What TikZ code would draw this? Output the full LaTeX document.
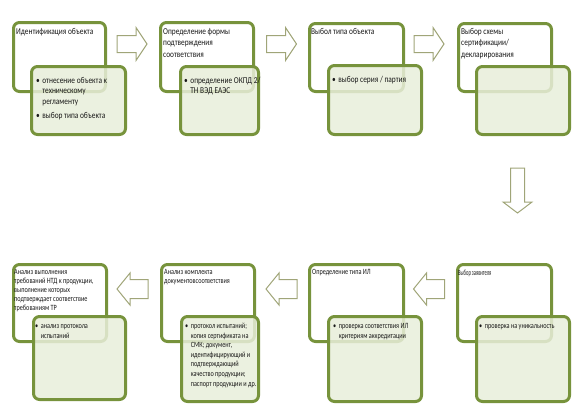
\documentclass[tikz,border=0pt]{standalone}
\usepackage{fontspec}
\setmainfont{Carlito}
\newfontfamily\topfont[FakeStretch=0.82]{Carlito}
\newfontfamily\condfont[FakeStretch=0.775]{Carlito}
\newfontfamily\narrowfont[FakeStretch=0.57]{Carlito}
\definecolor{gborder}{RGB}{119,147,60}
\definecolor{gfill}{RGB}{232,238,218}
\definecolor{arrc}{RGB}{160,165,120}
\definecolor{txt}{RGB}{25,25,25}
\newcommand\bitem[1]{\begin{tabular}[t]{@{}l@{\hspace{2.5pt}}l@{}}\textbullet&\begin{tabular}[t]{@{}l@{}}#1\end{tabular}\end{tabular}}
\begin{document}
\begin{tikzpicture}[x=1pt,y=-1pt,
  wbox/.style={draw=gborder, line width=3pt, rounded corners=6pt, fill=white, inner sep=0pt, anchor=north west},
  gbox/.style={draw=gborder, line width=3pt, rounded corners=6pt, fill=gfill, fill opacity=0.85, draw opacity=1, inner sep=0pt, anchor=north west},
  ttl/.style={inner sep=0pt, anchor=north west, align=left, text=txt, font=\topfont\fontsize{9}{11.5}\selectfont},
  bul/.style={inner sep=0pt, anchor=north west, align=left, text=txt, font=\topfont\fontsize{9}{10.3}\selectfont},
  ttlb/.style={inner sep=0pt, anchor=north west, align=left, text=txt, font=\condfont\fontsize{8}{9}\selectfont},
  bulb/.style={inner sep=0pt, anchor=north west, align=left, text=txt, font=\condfont\fontsize{8}{9.6}\selectfont},
  blockarrow/.style={draw=arrc, fill=white, line width=1pt, line join=miter},
  toparrow/.pic={\draw[blockarrow] (-15,-8.5) -- (4,-8.5) -- (4,-16.5) -- (15,0) -- (4,16.5) -- (4,8.5) -- (-15,8.5) -- cycle;},
  botarrow/.pic={\draw[blockarrow] (15.5,-9.5) -- (-2.5,-9.5) -- (-2.5,-16) -- (-15.5,0) -- (-2.5,16) -- (-2.5,9.5) -- (15.5,9.5) -- cycle;},
  downarrow/.pic={\draw[blockarrow] (-7,-22.5) -- (-7,11.5) -- (-14.5,11.5) -- (0,22.5) -- (14.5,11.5) -- (7,11.5) -- (7,-22.5) -- cycle;}
]
\useasboundingbox (0,0) rectangle (579,413);

% ---- top row ----
\node[wbox, minimum width=92pt, minimum height=69pt] (w1) at (12,21) {};
\node[ttl] (t1) at (16,28) {Идентификация объекта};
\node[gbox, minimum width=94pt, minimum height=68pt] (g1) at (30,65) {};
\node[bul] (b1) at (36,76) {\bitem{отнесение объекта к\\техническому\\регламенту}\\[3pt]\bitem{выбор типа объекта}};

\node[wbox, minimum width=93pt, minimum height=69pt] (w2) at (159,21) {};
\node[ttl] (t2) at (163,28) {Определение формы\\подтверждения\\соответствия};
\node[gbox, minimum width=78pt, minimum height=68pt] (g2) at (179,65) {};
\node[bul] (b2) at (184,76) {\bitem{определение ОКПД 2/\\ТН ВЭД ЕАЭС}};

\node[wbox, minimum width=94pt, minimum height=68pt] (w3) at (308,22) {};
\node[ttl] (t3) at (311,28) {Выбол типа объекта};
\node[gbox, minimum width=93pt, minimum height=69pt] (g3) at (327,64) {};
\node[bul] (b3) at (332,75) {\bitem{выбор серия / партия}};

\node[wbox, minimum width=93pt, minimum height=68pt] (w4) at (457,22) {};
\node[ttl] (t4) at (461,28) {Выбор схемы\\сертификации/\\декларирования};
\node[gbox, minimum width=93pt, minimum height=68pt] (g4) at (475,65) {};

\pic (a1) at (132,44) {toparrow};
\pic (a2) at (281.5,44) {toparrow};
\pic (a3) at (429,44) {toparrow};
\pic (a4) at (517.5,190.5) {downarrow};

% ---- bottom row ----
\node[wbox, minimum width=94pt, minimum height=77pt] (w5) at (456,263) {};
\node[ttlb, font=\narrowfont\fontsize{8}{9}\selectfont] (t5) at (458,269.5) {Выбор заявителя};
\node[gbox, minimum width=93pt, minimum height=85pt] (g5) at (475,315) {};
\node[bulb] (b5) at (479,321.5) {\bitem{проверка на уникальность}};

\node[wbox, minimum width=94pt, minimum height=77pt] (w6) at (308,263) {};
\node[ttlb] (t6) at (312,269.5) {Определение типа ИЛ};
\node[gbox, minimum width=93pt, minimum height=85pt] (g6) at (327,315) {};
\node[bulb] (b6) at (333,321.5) {\bitem{проверка соответствия ИЛ\\критериям аккредитации}};

\node[wbox, minimum width=93pt, minimum height=77pt] (w7) at (160,263) {};
\node[ttlb] (t7) at (164,269.5) {Анализ комплекта\\документовсоответствия};
\node[gbox, minimum width=77pt, minimum height=85pt] (g7) at (180,315) {};
\node[bulb] (b7) at (185,321.5) {\bitem{протокол испытаний;\\копия сертификата на\\СМК; документ,\\идентифицирующий и\\подтверждающий\\качество продукции;\\паспорт продукции и др.}};

\node[wbox, minimum width=93pt, minimum height=77pt] (w8) at (12,263) {};
\node[ttlb] (t8) at (14,269.5) {Анализ выполнения\\требований НТД к продукции,\\выполнение которых\\подтверждает соответствие\\требованиям ТР};
\node[gbox, minimum width=92pt, minimum height=83pt] (g8) at (32,315) {};
\node[bulb] (b8) at (35,321.5) {\bitem{анализ протокола\\испытаний}};

\pic (a5) at (429,289) {botarrow};
\pic (a6) at (281.5,289) {botarrow};
\pic (a7) at (132.5,289) {botarrow};
\end{tikzpicture}
\end{document}
